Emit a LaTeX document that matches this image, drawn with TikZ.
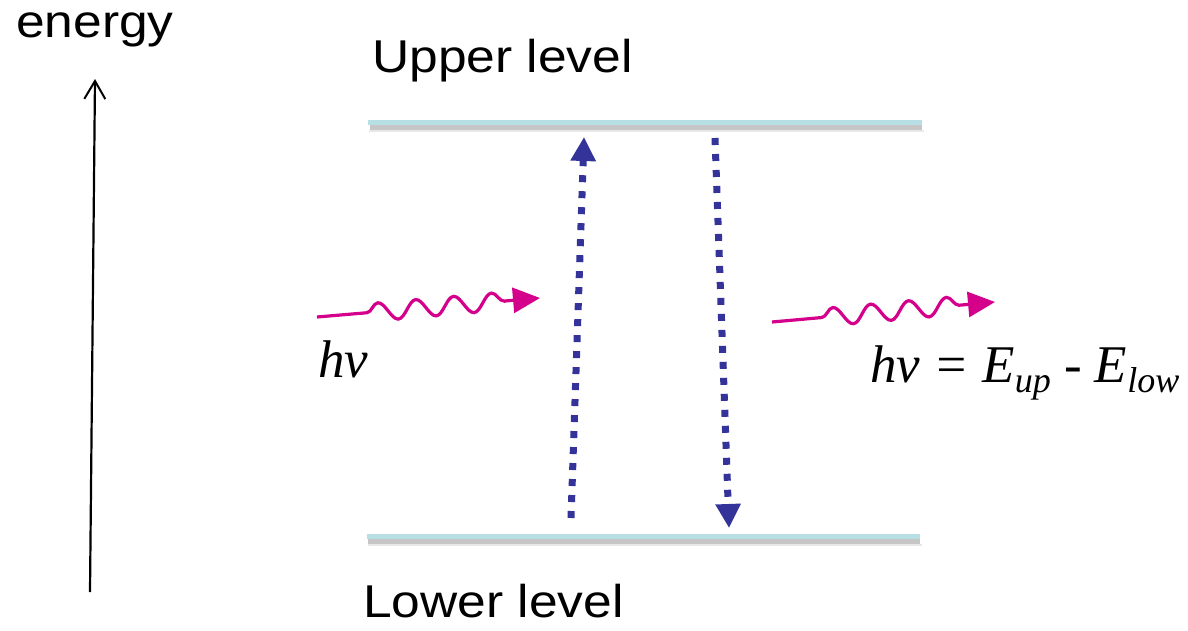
\documentclass[tikz,border=0pt]{standalone}
\usepackage{fontspec}
\setmainfont{Liberation Sans}
\newfontfamily\serifit{Liberation Serif}
\usetikzlibrary{arrows.meta,decorations.pathmorphing}
\definecolor{levcyan}{RGB}{184,224,228}
\definecolor{levgray}{RGB}{198,198,198}
\definecolor{dotblue}{RGB}{51,51,153}
\definecolor{photonpink}{RGB}{212,0,140}
\tikzset{
  labeltext/.style={inner sep=0pt, anchor=base west, font=\fontsize{46}{46}\selectfont, xscale=1.12},
  mathtext/.style={inner sep=0pt, anchor=base west, font=\serifit\itshape\fontsize{53}{53}\selectfont},
  transition/.style={draw=dotblue, line width=7pt, line cap=butt, dash pattern=on 7pt off 9pt,
     -{Triangle[length=24pt,width=24pt]}},
  photon/.style={draw=photonpink, line width=3.2pt, decorate,
     decoration={snake, amplitude=9pt, segment length=38pt, pre length=50pt, post length=30pt},
     -{Triangle[length=27pt,width=25pt]}},
  axisarrow/.style={draw=black, line width=2.2pt, -{Straight Barb[length=18pt,width=21pt,line width=2pt]}}
}
\newcommand{\lowidx}[1]{\raisebox{-10pt}{\fontsize{36}{36}\selectfont #1}}
\begin{document}
\begin{tikzpicture}[x=1pt,y=-1pt]
\useasboundingbox (0,0) rectangle (1188,631);
% energy axis
\node[labeltext] (energy) at (16,38) {energy};
\coordinate (axisbot) at (90,592);
\coordinate (axistop) at (95,79);
\draw[axisarrow] (axisbot) -- (axistop);
% levels
\fill[levgray!40] (369,130) rectangle (924,132);
\fill[levgray] (370,125) rectangle (922,130);
\fill[levcyan] (368,120) rectangle (922,125);
\fill[levgray!40] (368,544) rectangle (922,546);
\fill[levgray] (368,539) rectangle (920,544);
\fill[levcyan] (367,534) rectangle (920,539);
\node[labeltext] (upper) at (372,73) {Upper level};
\node[labeltext] (lower) at (363,617) {Lower level};
% transitions
\coordinate (absstart) at (571,518);
\coordinate (absend) at (584,137);
\coordinate (emstart) at (715,138);
\coordinate (emend) at (729,528);
\draw[transition] (absstart) -- (absend);
\draw[transition] (emstart) -- (emend);
% photons
\coordinate (ph1s) at (317,317);
\coordinate (ph1e) at (540,298);
\coordinate (ph2s) at (772,322);
\coordinate (ph2e) at (995,302);
\draw[photon] (ph1s) -- (ph1e);
\draw[photon] (ph2s) -- (ph2e);
% labels
\node[mathtext] (hnu) at (318,377) {hν};
\node[mathtext] (relation) at (870,382) {hν = E\lowidx{up} - E\lowidx{low}};
\end{tikzpicture}
\end{document}
